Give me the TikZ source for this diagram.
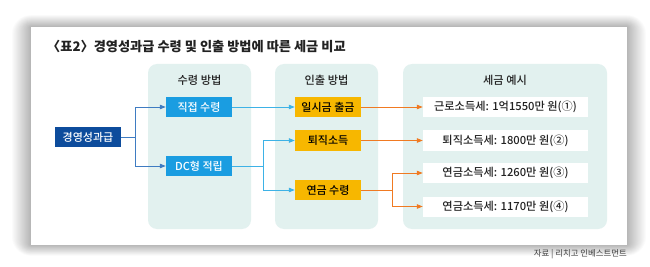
\documentclass[tikz,border=0pt]{standalone}
\usepackage{fontspec}
\setmainfont{Noto Sans CJK KR}
\newfontfamily\krmed{Noto Sans CJK KR Medium}
\usetikzlibrary{arrows.meta}
\definecolor{panelc}{HTML}{E2F1EF}
\definecolor{darkb}{HTML}{0D4C9C}
\definecolor{lightb}{HTML}{1A9DE1}
\definecolor{yel}{HTML}{F7B700}
\definecolor{lineb}{HTML}{3F7CC2}
\definecolor{linelb}{HTML}{3DB2E6}
\definecolor{lineo}{HTML}{F07A22}
\definecolor{txt}{HTML}{222222}
\begin{document}
\begin{tikzpicture}[x=1pt,y=-1pt,
  panel/.style={fill=panelc,rounded corners=9pt},
  hdr/.style={font=\krmed\fontsize{11.2}{13}\selectfont,text=txt},
  bx/.style={minimum width=66pt,minimum height=20pt,inner sep=0pt,font=\krmed\fontsize{11}{13}\selectfont},
  boxb/.style={bx,fill=lightb,text=white},
  boxd/.style={bx,fill=darkb,text=white},
  boxy/.style={bx,fill=yel,text=black},
  boxw/.style={fill=white,text=txt,minimum width=165pt,minimum height=20pt,inner sep=0pt,font=\krmed\fontsize{11.2}{13}\selectfont},
  tip/.style={-{Triangle[length=6pt,width=4.5pt]}},
  lb/.style={draw=lineb,line width=0.8pt,tip},
  llb/.style={draw=linelb,line width=0.8pt,tip},
  lo/.style={draw=lineo,line width=0.8pt,tip}]
\useasboundingbox (0,0) rectangle (650,267);
\fill[white] (0,0) rectangle (650,267);
% soft shadow
\foreach \i in {1,...,24}{
  \fill[black,opacity=0.011,rounded corners=\i*0.8pt] (31-\i*0.8,27-\i*0.5) rectangle (627+\i*0.8,245+\i*0.45);
}
\fill[white] (31,27) rectangle (627,245);
% title
\node[anchor=west,font=\bfseries\fontsize{13.2}{15}\selectfont,text=txt,inner sep=0pt] (title) at (47,46) {〈표2〉경영성과급 수령 및 인출 방법에 따른 세금 비교};
% panels
\fill[panel] (148,64) rectangle (251,229);
\fill[panel] (275,64) rectangle (378,229);
\fill[panel] (403,64) rectangle (607,229);
\node[hdr] (h1) at (199.5,80) {수령 방법};
\node[hdr] (h2) at (326.5,80) {인출 방법};
\node[hdr] (h3) at (505,80) {세금 예시};
% nodes
\node[boxd] (gy) at (88,137) {경영성과급};
\node[boxb] (jj) at (199,107) {직접 수령};
\node[boxb] (dc) at (199,166) {DC형 적립};
\node[boxy] (il) at (328,107) {일시금 출금};
\node[boxy] (tj) at (328,140.5) {퇴직소득};
\node[boxy] (yg) at (328,190) {연금 수령};
\node[boxw] (t1) at (505.5,107) {근로소득세: 1억1550만 원(①)};
\node[boxw] (t2) at (505.5,140.5) {퇴직소득세: 1800만 원(②)};
\node[boxw] (t3) at (505.5,173) {연금소득세: 1260만 원(③)};
\node[boxw] (t4) at (505.5,206.5) {연금소득세: 1170만 원(④)};
% split points
\coordinate (s1) at (135,137);
\coordinate (s2) at (263,166);
\coordinate (s3) at (392,190);
% connectors
\draw[lb] (gy.east) -- (s1) |- (jj.west);
\draw[lb] (s1) |- (dc.west);
\draw[llb] (jj.east) -- (il.west);
\draw[llb] (dc.east) -- (s2) |- (tj.west);
\draw[llb] (s2) |- (yg.west);
\draw[lo] (il.east) -- (t1.west);
\draw[lo] (tj.east) -- (t2.west);
\draw[lo] (yg.east) -- (s3) |- (t3.west);
\draw[lo] (s3) |- (t4.west);
% source
\node[anchor=east,font=\fontsize{8.4}{10}\selectfont,text=black!75,inner sep=0pt] (src) at (627,254) {자료 | 리치고 인베스트먼트};
\end{tikzpicture}
\end{document}
